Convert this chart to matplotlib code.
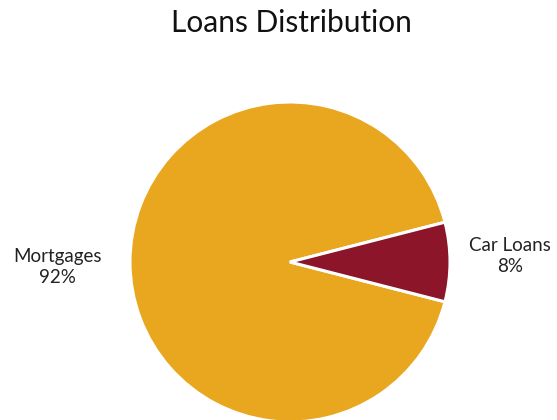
import numpy as np
import matplotlib
matplotlib.use("Agg")
import matplotlib.pyplot as plt

plt.rcParams['font.family'] = ['Lato', 'DejaVu Sans']

categories = ["Mortgages", "Car Loans"]
shares = [92, 8]
colors = ["#E9A720", "#8C1529"]

fig = plt.figure(figsize=(5.57, 4.2), dpi=100)
ax = fig.add_axes([0, 0, 1, 1])

wedges, _ = ax.pie(shares, colors=colors, startangle=14.4, counterclock=True,
                   radius=1.0, wedgeprops=dict(edgecolor="white", linewidth=2.2))

# pixel layout: center at (290, 262), radius 160 px
ax.set_xlim(-290 / 160, (557 - 290) / 160)
ax.set_ylim(-158 / 160, 262 / 160)
ax.set_aspect("equal")
ax.axis("off")

# labels placed along each wedge's mid angle
label_dist = [1.455, 1.375]
label_dy = [-0.03, 0.035]
for w, name, pct, d, dy in zip(wedges, categories, shares, label_dist, label_dy):
    ang = np.deg2rad((w.theta1 + w.theta2) / 2)
    ax.text(d * np.cos(ang), d * np.sin(ang) + dy, f"{name}\n{pct}%",
            ha="center", va="center", fontsize=13.5, color="#222222",
            linespacing=1.3)

fig.text(0.524, 0.945, "Loans Distribution", ha="center", va="center",
         fontsize=21.5, color="#111111")

fig.savefig("out.png", dpi=100, facecolor="white")
